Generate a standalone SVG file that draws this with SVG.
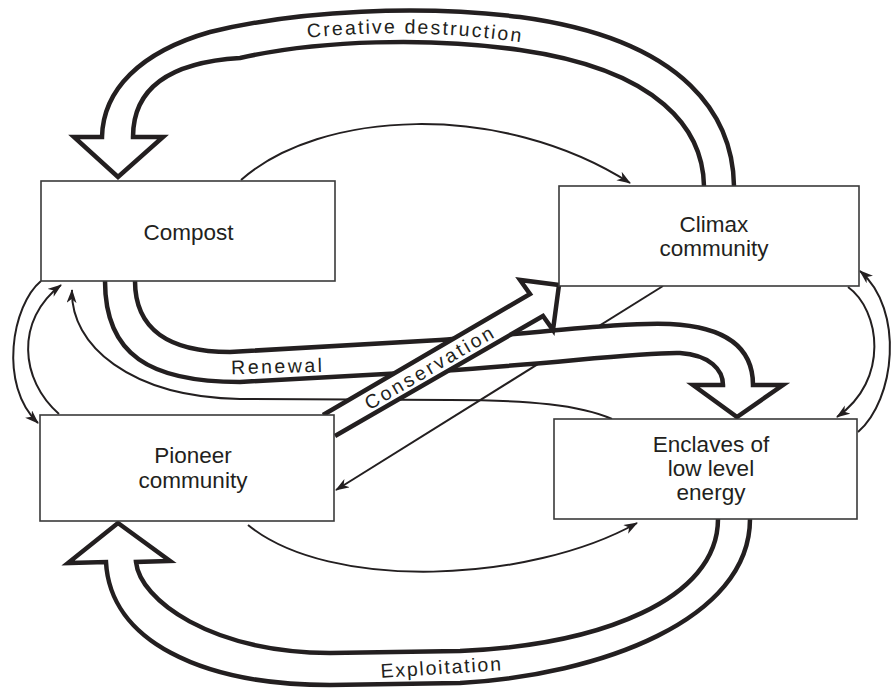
<svg xmlns="http://www.w3.org/2000/svg" width="893" height="688" viewBox="0 0 893 688">
<style>
.box{fill:#fff;stroke:#3a3a3a;stroke-width:1.6}
.nt{font-family:"Liberation Sans",Arial,sans-serif;font-size:22.5px;fill:#231f20;text-anchor:middle}
.lbl{font-family:"Liberation Sans",Arial,sans-serif;font-size:19.5px;fill:#231f20;text-anchor:middle}
.thin{fill:none;stroke:#231f20;stroke-width:2;marker-end:url(#ah)}
.big{fill:#fff;stroke:#231f20;stroke-width:4.5;stroke-linejoin:miter;stroke-miterlimit:10}
</style>
<defs>
<marker id="ah" markerUnits="userSpaceOnUse" markerWidth="15" markerHeight="11" refX="13" refY="5" orient="auto">
<path d="M0,0 L14,5 L0,10 L4,5 Z" fill="#231f20"/>
</marker>
<path id="cdPath" d="M280,41 Q414,23 550,47"/>
</defs>
<g id="connectors">
<path class="thin" d="M241,180 C320,110 500,100 630,183"/>
<path class="thin" d="M248,525 C330,592 530,583 637,523"/>
<path class="thin" d="M612,419 C580,405 530,400 450,400 L240,399 C130,397 70,345 72,290"/>
<path class="thin" d="M663,286 L336,490"/>
<path class="thin" d="M41,281 C12,305 -2,385 38,423"/>
<path class="thin" d="M59,414 C20,380 15,320 61,285"/>
<path class="thin" d="M848,287 C880,310 890,380 837,417"/>
<path class="thin" d="M858,432 C895,400 905,310 860,271"/>
<path id="creative" class="big" d="M734,186 C733,120 690,40 520,17 C420,5 300,10 210,32 C140,52 103,90 102,137 L74,137 L118,177 L163,137 L133,137 C133,85 175,62 240,58 C320,40 430,37 520,50 C660,70 703,130 704,186"/>
<path id="renewal" class="big" d="M135,281 C135,330 170,352 230,352 L440,340 C540,333 620,322 670,324 C730,327 753,350 753,385 L783,385 L737,417 L693,385 L723,385 C723,370 710,355 680,353 C640,352 560,363 440,371 L240,382 C150,382 105,355 105,281"/>
<path id="conservation" class="big" d="M323,415 L530,294 L520,280 L559,285 L553,330 L543,316 L335,436"/>
<path id="exploitation" class="big" d="M750,519 C750,620 600,675 460,683 L330,685 C200,685 110,640 106,562 L68,563 L118,523 L170,561 L136,562 C140,600 210,652 330,653 L460,651 C600,645 718,600 718,519"/>
<text class="lbl" letter-spacing="2.1"><textPath href="#cdPath" startOffset="50%">Creative destruction</textPath></text>
<text class="lbl" letter-spacing="2.5" transform="translate(278,373) rotate(-1.5)">Renewal</text>
<text class="lbl" letter-spacing="2.8" transform="translate(430,367) rotate(-30.3)" y="7">Conservation</text>
<text class="lbl" letter-spacing="1.8" transform="translate(442,674) rotate(-3.6)">Exploitation</text>
</g>
<g id="compost">
<rect class="box" x="41" y="181" width="294" height="100"/>
<text class="nt" x="188.5" y="240">Compost</text>
</g>
<g id="climax">
<rect class="box" x="559" y="186" width="300" height="100"/>
<text class="nt" x="714" y="232">Climax</text>
<text class="nt" x="714" y="256">community</text>
</g>
<g id="pioneer">
<rect class="box" x="40" y="415" width="294" height="106"/>
<text class="nt" x="193" y="463">Pioneer</text>
<text class="nt" x="193" y="488">community</text>
</g>
<g id="enclaves">
<rect class="box" x="554" y="419" width="303" height="100"/>
<text class="nt" x="711" y="452">Enclaves of</text>
<text class="nt" x="711" y="476">low level</text>
<text class="nt" x="711" y="500">energy</text>
</g>
</svg>
